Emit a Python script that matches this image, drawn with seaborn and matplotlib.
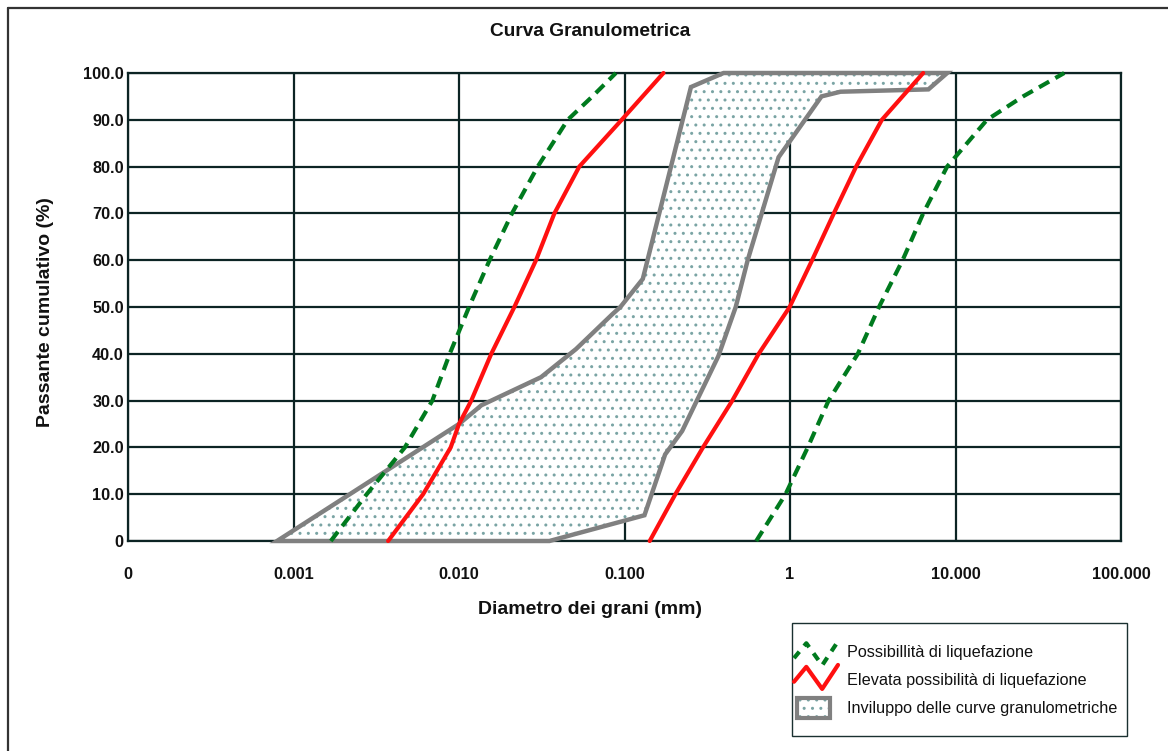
import numpy as np
import pandas as pd
import matplotlib
matplotlib.use("Agg")
import matplotlib.pyplot as plt
import seaborn as sns
from matplotlib.lines import Line2D
from matplotlib.patches import Patch, Rectangle
from matplotlib.legend_handler import HandlerBase

# ---------------- data ----------------
green_fine_d = [0.00168, 0.00277, 0.00471, 0.0069, 0.00879, 0.0115, 0.0153, 0.0209, 0.0299, 0.0454, 0.064, 0.0887]
green_fine_p = [0, 10, 20, 30, 40, 50, 60, 70, 80, 90, 95, 100]
green_coarse_d = [0.625, 0.94, 1.28, 1.71, 2.57, 3.45, 4.79, 6.38, 8.9, 15.5, 25.6, 45.4]
green_coarse_p = [0, 10, 20, 30, 40, 50, 60, 70, 80, 90, 95, 100]

red_fine_d = [0.00373, 0.00607, 0.00891, 0.0100, 0.01186, 0.01567, 0.0216, 0.0292, 0.0377, 0.0533, 0.0962, 0.172]
red_fine_p = [0, 10, 20, 25, 30, 40, 50, 60, 70, 80, 90, 100]
red_coarse_d = [0.142, 0.203, 0.298, 0.448, 0.647, 0.995, 1.36, 1.84, 2.51, 3.59, 6.38]
red_coarse_p = [0, 10, 20, 30, 40, 50, 60, 70, 80, 90, 100]

env_fine_d = [0.000795, 0.0100, 0.01365, 0.0313, 0.0509, 0.0847, 0.0944, 0.129, 0.252, 0.397]
env_fine_p = [0, 25, 29, 35, 41, 48.5, 50, 56, 97, 100]
env_coarse_d = [0.0352, 0.132, 0.176, 0.223, 0.369, 0.47, 0.555, 0.853, 1.55, 2.02, 6.86, 8.91]
env_coarse_p = [0, 5.5, 18.5, 23.5, 39.5, 50, 60, 82, 95, 96, 96.5, 100]

x_ticks = [0.0001, 0.001, 0.01, 0.1, 1, 10, 100]
x_tick_labels = ["0", "0.001", "0.010", "0.100", "1", "10.000", "100.000"]
y_ticks = [0, 10, 20, 30, 40, 50, 60, 70, 80, 90, 100]
y_tick_labels = ["0", "10.0", "20.0", "30.0", "40.0", "50.0", "60.0", "70.0", "80.0", "90.0", "100.0"]

labels = ["Possibillità di liquefazione",
          "Elevata possibilità di liquefazione",
          "Inviluppo delle curve granulometriche"]

# ---------------- style ----------------
sns.set_theme(style="white")
plt.rcParams["font.family"] = ["Liberation Sans", "DejaVu Sans"]
plt.rcParams["hatch.linewidth"] = 1.0

GREEN = "#007a1e"
RED = "#ff1010"
GRAY = "#808080"
DOT = "#7aa4a4"
GRID = "#0c2424"
TXT = "#111111"

W, H = 1168, 751
fig = plt.figure(figsize=(W / 100, H / 100), dpi=100)
ax = fig.add_axes([128 / W, 1 - 541 / H, (1121 - 128) / W, (541 - 73) / H])

ax.set_xscale("log")
ax.set_xlim(1e-4, 100)
ax.set_ylim(0, 100)

# envelope polygon
poly_x = list(env_fine_d) + list(env_coarse_d[::-1])
poly_y = list(env_fine_p) + list(env_coarse_p[::-1])
ax.fill(poly_x, poly_y, facecolor="white", edgecolor=DOT, hatch="..", lw=0, zorder=1)
ax.fill(poly_x, poly_y, facecolor="none", edgecolor=GRAY, lw=3.2, zorder=2.6,
        joinstyle="miter", clip_on=False)

# curves
dash = (2.8, 1.7)
sns.lineplot(x=green_fine_d, y=green_fine_p, ax=ax, sort=False, estimator=None,
             color=GREEN, lw=3.0, zorder=3).lines[-1].set_dashes(dash)
sns.lineplot(x=green_coarse_d, y=green_coarse_p, ax=ax, sort=False, estimator=None,
             color=GREEN, lw=3.0, zorder=3).lines[-1].set_dashes(dash)
sns.lineplot(x=red_fine_d, y=red_fine_p, ax=ax, sort=False, estimator=None,
             color=RED, lw=3.0, zorder=3)
sns.lineplot(x=red_coarse_d, y=red_coarse_p, ax=ax, sort=False, estimator=None,
             color=RED, lw=3.0, zorder=3)
for ln in ax.lines:
    ln.set_clip_on(False)

# grid & spines
ax.set_xticks(x_ticks)
ax.set_xticklabels(x_tick_labels)
ax.xaxis.set_minor_locator(matplotlib.ticker.NullLocator())
ax.set_yticks(y_ticks)
ax.set_yticklabels(y_tick_labels)
ax.grid(True, which="major", color=GRID, lw=1.6)
for s in ax.spines.values():
    s.set_color(GRID)
    s.set_linewidth(1.6)
ax.tick_params(axis="x", length=0, pad=19, labelsize=11.7, labelcolor=TXT)
ax.tick_params(axis="y", length=0, pad=3, labelsize=11.7, labelcolor=TXT)
for t in ax.get_xticklabels() + ax.get_yticklabels():
    t.set_fontweight("bold")

ax.set_xlabel("Diametro dei grani (mm)", fontsize=14, fontweight="bold", color=TXT)
ax.xaxis.set_label_coords((590 - 128) / (1121 - 128), (541 - 601) / (541 - 73))
ax.set_ylabel("Passante cumulativo (%)", fontsize=14, fontweight="bold", color=TXT)
ax.yaxis.set_label_coords((54 - 128) / (1121 - 128), (541 - 312) / (541 - 73))

fig.text(590 / W, 1 - 31 / H, "Curva Granulometrica", ha="center", va="center",
         fontsize=13.8, fontweight="bold", color=TXT)

# figure frame
fig.add_artist(Line2D([7.5 / W, 7.5 / W], [0, 1 - 7.5 / H], transform=fig.transFigure,
                      color="#333333", lw=1.6))
fig.add_artist(Line2D([7.5 / W, 1], [1 - 7.5 / H, 1 - 7.5 / H], transform=fig.transFigure,
                      color="#333333", lw=1.6))

PT = 72 / 100  # points per pixel


# ---------------- legend ----------------
class ZigHandler(HandlerBase):
    def __init__(self, shift_px=0.0):
        super().__init__()
        self.shift = shift_px * PT

    def create_artists(self, legend, orig_handle, xdescent, ydescent, width, height, fontsize, trans):
        hz = 24 * PT
        c = height / 2 - ydescent + self.shift
        xs = np.array([0.0, 0.28, 0.64, 1.0]) * width - xdescent
        ys = c - hz / 2 + np.array([0.3, 0.92, 0.0, 1.0]) * hz
        ln = Line2D(xs, ys)
        ln.update_from(orig_handle)
        ln.set_transform(trans)
        return [ln]


class BoxHandler(HandlerBase):
    def create_artists(self, legend, orig_handle, xdescent, ydescent, width, height, fontsize, trans):
        w = 33 * PT
        h = 20 * PT
        x0 = -xdescent + 3 * PT
        y0 = height / 2 - ydescent - h / 2
        r1 = Rectangle((x0, y0), w, h, facecolor="white", edgecolor=DOT, hatch="..", lw=0)
        r2 = Rectangle((x0, y0), w, h, facecolor="none", edgecolor=GRAY, lw=3.0)
        r1.set_transform(trans)
        r2.set_transform(trans)
        return [r1, r2]


h_green = Line2D([], [], color=GREEN, lw=3.0)
h_green.set_dashes((2.0, 1.8))
h_red = Line2D([], [], color=RED, lw=3.0)
h_env = Patch(facecolor="white", edgecolor=GRAY)

fs = 11.7
fpx = fs * 100 / 72
leg = fig.legend([h_green, h_red, h_env], labels,
                 handler_map={h_green: ZigHandler(-2), h_red: ZigHandler(2.5), h_env: BoxHandler()},
                 loc="upper left", bbox_to_anchor=(794 / W, 1 - 643 / H),
                 bbox_transform=fig.transFigure, frameon=False, borderpad=0, borderaxespad=0,
                 fontsize=fs, handlelength=44 / fpx, handleheight=1.2,
                 handletextpad=9 / fpx, labelspacing=11.3 / fpx)
for t in leg.get_texts():
    t.set_color(TXT)

fig.add_artist(Rectangle((792 / W, 1 - 736 / H), (1127 - 792) / W, (736 - 623) / H,
                         transform=fig.transFigure, fill=False, ec="#1a3030", lw=1.0))

fig.savefig("out.png", dpi=100, facecolor="white")
